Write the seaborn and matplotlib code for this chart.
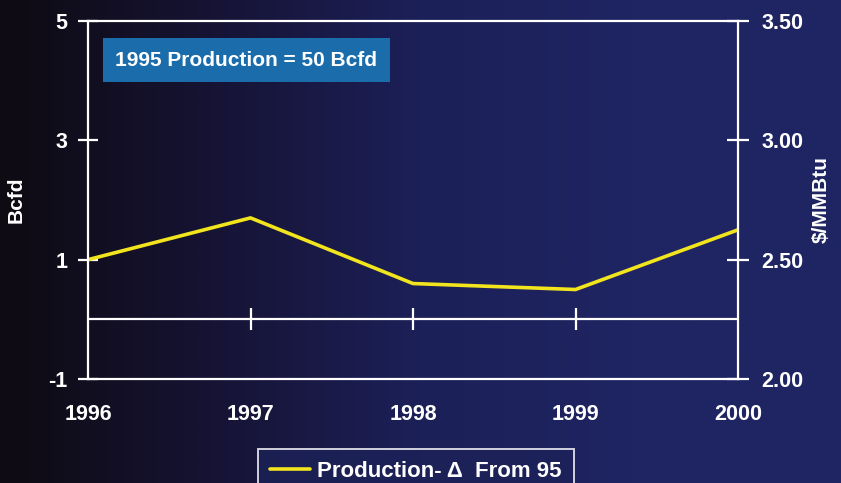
import numpy as np
import pandas as pd
import matplotlib
matplotlib.use("Agg")
import matplotlib.pyplot as plt
import seaborn as sns
from matplotlib.colors import LinearSegmentedColormap

years = [1996, 1997, 1998, 1999, 2000]
production_delta = [1.0, 1.7, 0.6, 0.5, 1.5]
left_ticks = [-1, 1, 3, 5]
right_ticks = [2.00, 2.50, 3.00, 3.50]
right_tick_labels = ["2.00", "2.50", "3.00", "3.50"]
series_label = "Production- \u0394  From 95"
box_text = "1995 Production = 50 Bcfd"

sns.set_theme(style="dark")
plt.rcParams['font.family'] = ['Liberation Sans', 'DejaVu Sans']
plt.rcParams['font.weight'] = 'bold'

W, H = 841, 483
fig = plt.figure(figsize=(W / 100, H / 100), dpi=100)

# background gradient
bg = fig.add_axes([0, 0, 1, 1], zorder=-10)
cmap = LinearSegmentedColormap.from_list(
    "bg", ["#0e0b12", "#161334", "#1c2058", "#1f2562", "#1f2663"])
grad = np.linspace(0, 1, 512)[None, :]
bg.imshow(grad, aspect="auto", cmap=cmap, extent=[0, 1, 0, 1])
bg.set_axis_off()

ax = fig.add_axes([88 / W, 1 - 379 / H, (738 - 88) / W, (379 - 21) / H])
ax.set_facecolor("none")

df = pd.DataFrame({"Year": years, "Delta": production_delta})
sns.lineplot(data=df, x="Year", y="Delta", ax=ax, color="#f2e51d",
             linewidth=2.6, label=series_label, legend=False)

ax.set_xlim(1996, 2000)
ax.set_ylim(-1, 5)
ax.set_yticks(left_ticks)
ax.set_yticklabels([str(t) for t in left_ticks])
ax.set_xticks(years)
ax.set_xticklabels([str(y) for y in years])
ax.grid(False)

for s in ax.spines.values():
    s.set_color("white")
    s.set_linewidth(1.6)
    s.set_visible(True)

ax.tick_params(axis="y", colors="white", direction="inout", length=14,
               width=1.6, labelsize=15.5, pad=8)
ax.tick_params(axis="x", colors="white", length=0, labelsize=15.5, pad=18)
for lbl in ax.get_xticklabels() + ax.get_yticklabels():
    lbl.set_fontweight("bold")

# zero line with tick marks
ax.axhline(0, color="white", linewidth=1.6, zorder=1)
ax.plot(years[1:-1], [0] * 3, ls="none", marker="|", ms=16, mew=1.6,
        color="white", zorder=1)

ax.set_ylabel("Bcfd", color="white", fontsize=15, fontweight="bold",
              labelpad=16)
ax.set_xlabel("")

ax2 = ax.twinx()
ax2.set_ylim(2.0, 3.5)
ax2.set_yticks(right_ticks)
ax2.set_yticklabels(right_tick_labels)
ax2.tick_params(axis="y", colors="white", direction="inout", length=16,
                width=1.6, labelsize=15.5, pad=9)
for lbl in ax2.get_yticklabels():
    lbl.set_fontweight("bold")
for s in ax2.spines.values():
    s.set_visible(False)
ax2.grid(False)
ax2.set_ylabel("\\$/MMBtu", color="white", fontsize=15, fontweight="bold",
               labelpad=6)

# annotation box
fig.text(246 / W, 1 - 60 / H, box_text, ha="center", va="center",
         color="white", fontsize=15, fontweight="bold",
         bbox=dict(boxstyle="square,pad=0.6", facecolor="#1b6cab",
                   edgecolor="none"))

# legend
handles, labels = ax.get_legend_handles_labels()
leg = fig.legend(handles, labels, loc="upper center",
                 bbox_to_anchor=(416 / W, 1 - 449 / H), frameon=True,
                 fancybox=False, handlelength=1.8, borderaxespad=0,
                 handletextpad=0.3, borderpad=0.55,
                 prop={"weight": "bold", "size": 16})
leg.get_frame().set_facecolor("#1c2258")
leg.get_frame().set_edgecolor("white")
leg.get_frame().set_linewidth(1.4)
for t in leg.get_texts():
    t.set_color("white")

fig.savefig("out.png", dpi=100)
